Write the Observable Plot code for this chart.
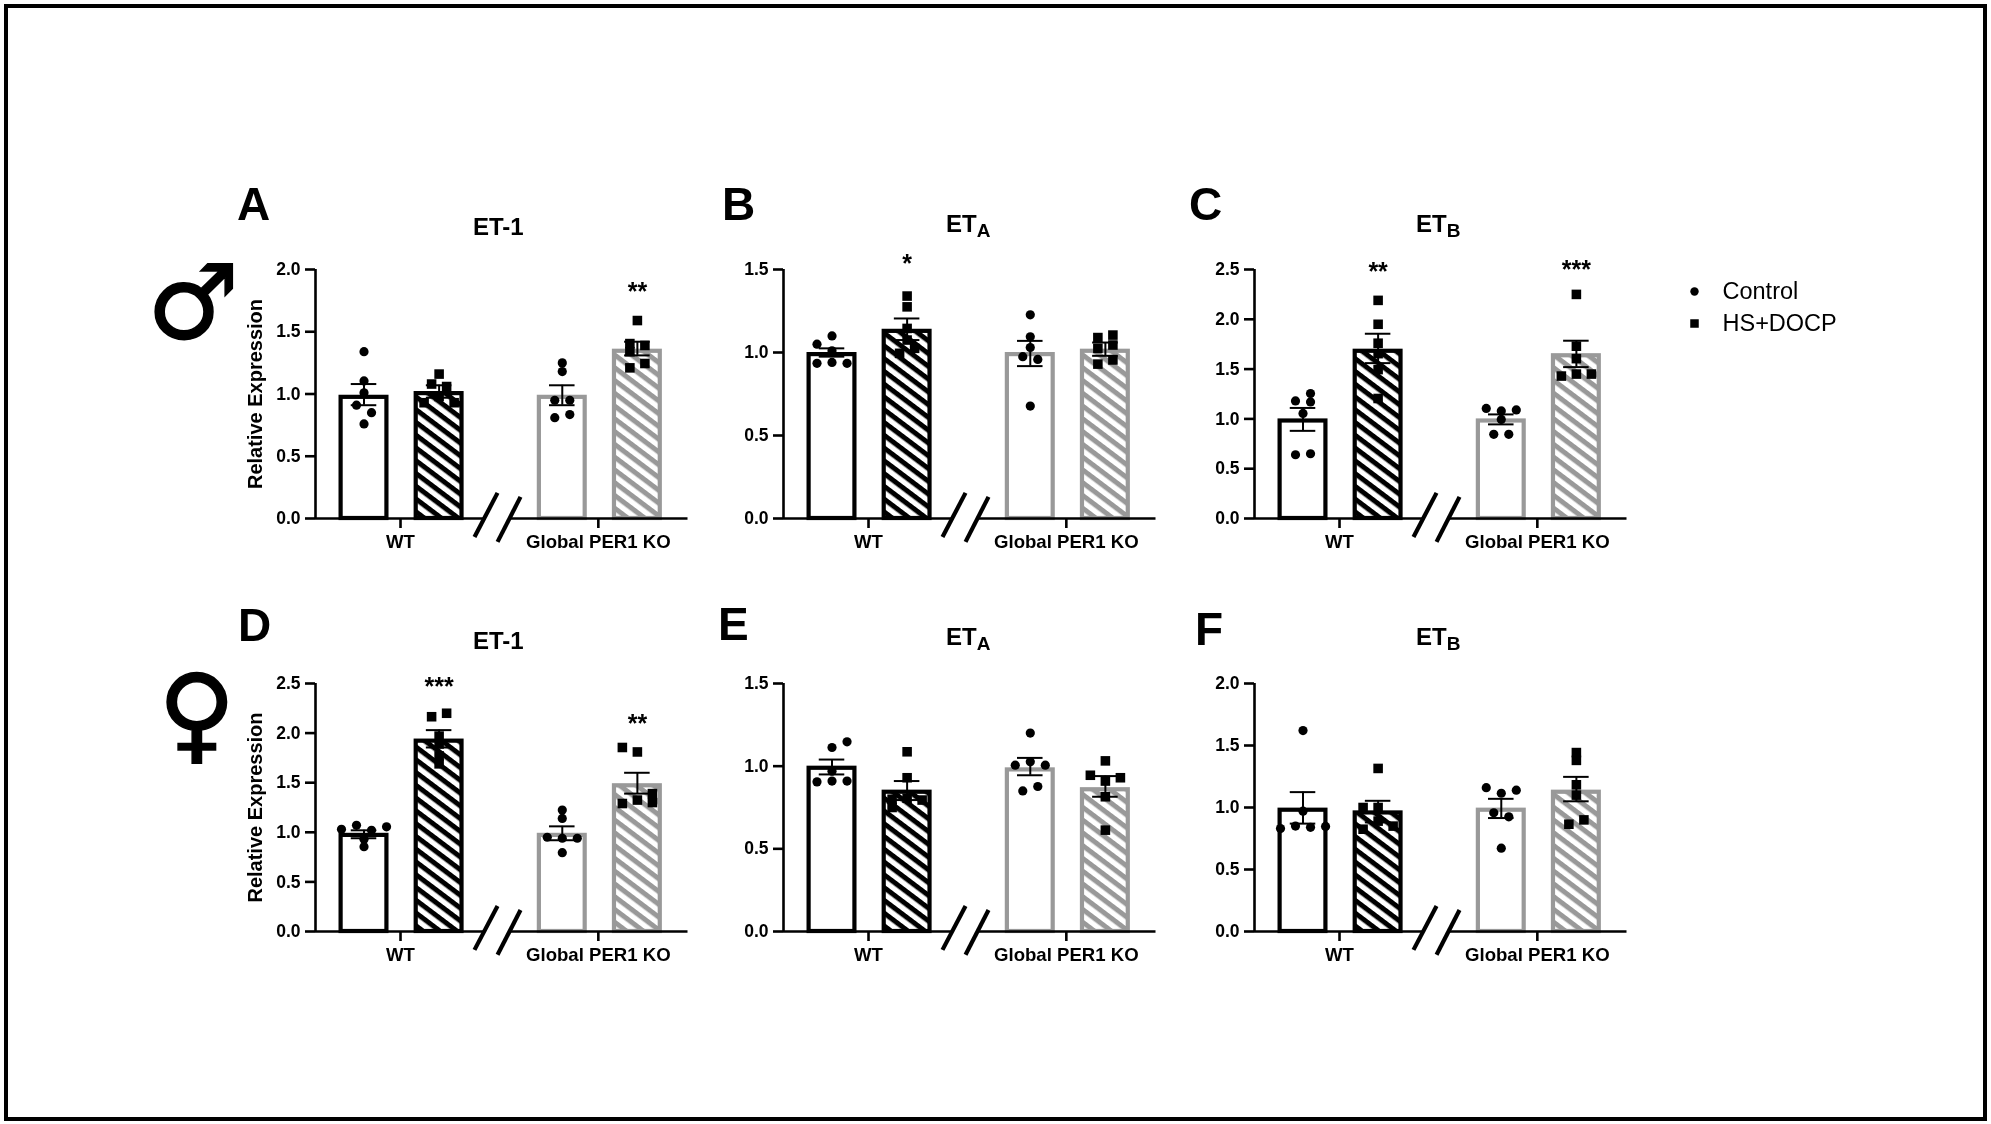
<!DOCTYPE html>
<html>
<head>
<meta charset="utf-8">
<script src="https://cdn.jsdelivr.net/npm/d3@7"></script>
<script src="https://cdn.jsdelivr.net/npm/@observablehq/plot@0.6"></script>
<style>
  html,body{margin:0;padding:0;background:#fff;}
  #page{position:relative;width:1991px;height:1124px;overflow:hidden;background:#fff;font-family:"Liberation Sans",Arial,sans-serif;color:#000;filter:blur(0.45px);}
  #frame{position:absolute;left:4px;top:4px;width:1975px;height:1109px;border:4px solid #000;}
  .lbl{position:absolute;font-weight:bold;line-height:1;white-space:nowrap;}
  .sub{position:relative;top:5px;font-size:19px;}
  .sex{position:absolute;line-height:1;font-family:"DejaVu Sans";font-weight:bold;white-space:nowrap;-webkit-text-stroke:1.5px #000;}
</style>
</head>
<body>
<div id="page"><div id="frame"></div></div>
<script>
// ---------- shared categories ----------
const groupNames = ["WT Control", "WT HS+DOCP", "KO Control", "KO HS+DOCP"];
const groupCenters = [0, 1, 2.64, 3.64];
const axisCategories = [0.486, 3.12];
const axisLabels = ["WT", "Global PER1 KO"];
const legendLabels = ["Control", "HS+DOCP"];

// ---------- A: male ET-1 ----------
const A_means = [0.99, 1.02, 0.99, 1.36];
const A_semHigh = [1.08, 1.07, 1.07, 1.42];
const A_semLow = [0.91, 0.97, 0.91, 1.31];
const A_points = [[1.34,1.105,1.01,0.91,0.85,0.76],[1.16,1.08,1.06,0.98,0.93,0.93],[1.25,1.18,0.95,0.95,0.81,0.835],[1.59,1.405,1.39,1.34,1.21,1.245]];
const A_slots = [[0,0,0,-1,1,0],[0,-1,1,0,-2,2],[0,0,-1,1,-1,1],[0,-1,1,-1,-1,1]];
const A_stars = [[3,"**",1.863]];
// ---------- B: male ETA ----------
const B_means = [1.0, 1.14, 1.0, 1.02];
const B_semHigh = [1.025, 1.205, 1.07, 1.06];
const B_semLow = [0.975, 1.075, 0.918, 0.98];
const B_points = [[1.10,1.05,1.01,0.935,0.94,0.935],[1.34,1.275,1.145,0.995,1.025,1.075],[1.227,1.095,1.03,0.975,0.958,0.677],[1.09,1.105,1.025,1.045,0.955,0.93]];
const B_slots = [[0,-2,0,-2,0,2],[0,0,0,-1,1,0],[0,0,0,-1,1,0],[-1,1,-1,1,1,-1]];
const B_stars = [[1,"*",1.566]];
// ---------- C: male ETB ----------
const C_means = [1.0, 1.70, 1.0, 1.655];
const C_semHigh = [1.11, 1.855, 1.045, 1.785];
const C_semLow = [0.88, 1.56, 0.945, 1.52];
const C_points = [[1.255,1.18,1.17,1.055,0.64,0.65],[2.19,1.95,1.76,1.655,1.495,1.205],[1.105,1.08,1.09,0.995,0.845,0.845],[2.25,1.73,1.605,1.43,1.45,1.45]];
const C_slots = [[1,-1,1,0,-1,1],[0,0,0,0,0,0],[-2,0,2,0,-1,1],[0,0,0,-2,0,2]];
const C_stars = [[1,"**",2.527],[3,"***",2.543]];
// ---------- D: female ET-1 ----------
const D_means = [0.99, 1.94, 0.99, 1.49];
const D_semHigh = [1.02, 2.03, 1.06, 1.60];
const D_semLow = [0.94, 1.855, 0.92, 1.39];
const D_points = [[1.03,1.07,1.02,1.055,0.93,0.855],[2.165,2.2,1.97,1.89,1.77,1.69],[1.225,1.14,0.95,0.94,0.94,0.795],[1.855,1.81,1.39,1.325,1.29,1.30]];
const D_slots = [[-3,-1,1,3,0,0],[-1,1,0,0,0,0],[0,0,-2,0,2,0],[-2,0,2,0,-2,2]];
const D_stars = [[1,"***",2.52],[3,"**",2.147]];
// ---------- E: female ETA ----------
const E_means = [1.0, 0.855, 0.99, 0.87];
const E_semHigh = [1.04, 0.91, 1.05, 0.94];
const E_semLow = [0.95, 0.795, 0.945, 0.815];
const E_points = [[1.147,1.113,0.97,0.905,0.91,0.91],[1.087,0.93,0.80,0.806,0.795,0.75],[1.2,1.026,1.006,1.006,0.85,0.877],[1.032,0.945,0.93,0.91,0.815,0.613]];
const E_slots = [[2,0,0,-2,0,2],[0,0,-2,0,2,-2],[0,0,-2,2,-1,1],[0,-2,2,0,0,0]];
const E_stars = [];
// ---------- F: female ETB ----------
const F_means = [0.995, 0.973, 0.995, 1.14];
const F_semHigh = [1.124, 1.054, 1.07, 1.247];
const F_semLow = [0.87, 0.88, 0.915, 1.05];
const F_points = [[1.62,0.97,0.85,0.84,0.83,0.847],[1.315,1.0,1.0,0.89,0.85,0.825],[1.16,1.115,1.14,0.957,0.925,0.672],[1.443,1.38,1.183,1.10,0.865,0.90]];
const F_slots = [[0,0,-1,1,-3,3],[0,-2,0,0,2,-2],[-2,0,2,-1,1,0],[0,0,0,0,-1,1]];
const F_stars = [];

// ---------- layout and style ----------
const FONT = '"Liberation Sans", Arial, sans-serif';
const ML = 80, MR = 20, MT = 50, MB = 50, AXIS_W = 372.5;
const X_DOMAIN = [-0.646, 4.314];
const SLOT = 0.1, BAR_HALF = 0.305, CAP_HALF = 0.17;
const BREAK_GAP = [1.59, 1.94];
const BREAK_X = [[1.471, 1.778], [1.778, 2.084]];
const BREAK_FRAC = [[-0.074, 0.103], [-0.094, 0.087]];
const page = document.getElementById("page");

function hatchDefs(id, color, period, width) {
  return () => {
    const ns = "http://www.w3.org/2000/svg";
    const defs = document.createElementNS(ns, "defs");
    const p = document.createElementNS(ns, "pattern");
    p.setAttribute("id", id);
    p.setAttribute("patternUnits", "userSpaceOnUse");
    p.setAttribute("width", period);
    p.setAttribute("height", period);
    p.setAttribute("patternTransform", "rotate(37)");
    const bg = document.createElementNS(ns, "rect");
    bg.setAttribute("width", period); bg.setAttribute("height", period); bg.setAttribute("fill", "#fff");
    const r = document.createElementNS(ns, "rect");
    r.setAttribute("width", period); r.setAttribute("height", width); r.setAttribute("fill", color);
    p.append(bg, r); defs.append(p);
    return defs;
  };
}

function panel(cfg) {
  const {id, left, top, h, yMax, means, semHigh, semLow, points, slots, stars, ylabel} = cfg;
  const groups = groupNames.map((g, i) => ({g, i, c: groupCenters[i], mean: means[i], hi: semHigh[i], lo: semLow[i]}));
  const dots = [];
  points.forEach((vals, i) => vals.forEach((v, j) => dots.push({i, v, x: groupCenters[i] + slots[i][j] * SLOT})));
  const barMark = (g) => Plot.rectY([g], {
    x1: d => d.c - BAR_HALF, x2: d => d.c + BAR_HALF, y1: 0, y2: "mean", insetTop: 2.1,
    stroke: g.i < 2 ? "#000" : "#999", strokeWidth: 4.2,
    fill: g.i % 2 === 0 ? "#fff" : (g.i === 1 ? `url(#hb-${id})` : `url(#hg-${id})`)
  });
  const ticks = d3.range(0, yMax + 0.001, 0.5);
  const breaks = BREAK_X.map((x, k) => ({x1: x[0], x2: x[1], y1: BREAK_FRAC[k][0] * yMax, y2: BREAK_FRAC[k][1] * yMax}));
  const marks = [
    hatchDefs(`hb-${id}`, "#000", 10.2, 5),
    hatchDefs(`hg-${id}`, "#999", 10.2, 5),
    ...groups.map(barMark),
    Plot.ruleY([0], {x1: X_DOMAIN[0], x2: BREAK_GAP[0], stroke: "#000", strokeWidth: 2.6}),
    Plot.ruleY([0], {x1: BREAK_GAP[1], x2: X_DOMAIN[1], stroke: "#000", strokeWidth: 2.6}),
    Plot.ruleX([X_DOMAIN[0]], {y1: 0, y2: yMax, stroke: "#000", strokeWidth: 2.6}),
    Plot.axisY({anchor: "left", ticks, tickSize: 10, tickPadding: 5, tickFormat: d3.format(".1f"), label: null,
      fontSize: 17.5, fontWeight: "bold", strokeWidth: 2.6, stroke: "#000", fill: "#000"}),
    Plot.axisX({anchor: "bottom", ticks: axisCategories, tickSize: 10, tickPadding: 6,
      tickFormat: d => axisLabels[axisCategories.indexOf(d)], label: null,
      fontSize: 18.6, fontWeight: "bold", strokeWidth: 2.6, stroke: "#000", fill: "#000"}),
    Plot.link(breaks, {x1: "x1", x2: "x2", y1: "y1", y2: "y2", stroke: "#000", strokeWidth: 4.2}),
    Plot.ruleX(groups, {x: "c", y1: "lo", y2: "hi", stroke: "#000", strokeWidth: 2}),
    Plot.ruleY(groups, {y: "hi", x1: d => d.c - CAP_HALF, x2: d => d.c + CAP_HALF, stroke: "#000", strokeWidth: 2}),
    Plot.ruleY(groups, {y: "lo", x1: d => d.c - CAP_HALF, x2: d => d.c + CAP_HALF, stroke: "#000", strokeWidth: 2}),
    Plot.dot(dots.filter(d => d.i % 2 === 0), {x: "x", y: "v", r: 4.6, fill: "#000", stroke: "none", symbol: "circle"}),
    Plot.dot(dots.filter(d => d.i % 2 === 1), {x: "x", y: "v", r: 5.4, fill: "#000", stroke: "none", symbol: "square"}),
    Plot.text(stars, {x: d => groupCenters[d[0]], y: d => d[2], text: d => d[1], fontSize: 25, fontWeight: "bold",
      lineAnchor: "middle", dy: 5, fill: "#000"})
  ];
  if (ylabel) marks.push(Plot.text([ylabel], {frameAnchor: "left", dx: -60, rotate: -90, fontSize: 20, fontWeight: "bold",
    textAnchor: "middle", lineAnchor: "middle", fill: "#000"}));
  const chart = Plot.plot({
    width: ML + AXIS_W + MR, height: MT + h + MB,
    marginLeft: ML, marginRight: MR, marginTop: MT, marginBottom: MB,
    x: {type: "linear", domain: X_DOMAIN, range: [ML, ML + AXIS_W], axis: null},
    y: {type: "linear", domain: [0, yMax], range: [MT + h, MT], axis: null},
    style: {position: "absolute", left: (left - ML) + "px", top: (top - MT) + "px", background: "transparent",
      fontFamily: FONT, overflow: "visible", maxWidth: "none", color: "#000"},
    marks
  });
  page.appendChild(chart);
}

const rowTop = [269.3, 682.7], rowH = [249, 248], colLeft = [315, 782.7, 1253.5];
panel({id: "A", left: colLeft[0], top: rowTop[0], h: rowH[0], yMax: 2.0, means: A_means, semHigh: A_semHigh, semLow: A_semLow, points: A_points, slots: A_slots, stars: A_stars, ylabel: "Relative Expression"});
panel({id: "B", left: colLeft[1], top: rowTop[0], h: rowH[0], yMax: 1.5, means: B_means, semHigh: B_semHigh, semLow: B_semLow, points: B_points, slots: B_slots, stars: B_stars});
panel({id: "C", left: colLeft[2], top: rowTop[0], h: rowH[0], yMax: 2.5, means: C_means, semHigh: C_semHigh, semLow: C_semLow, points: C_points, slots: C_slots, stars: C_stars});
panel({id: "D", left: colLeft[0], top: rowTop[1], h: rowH[1], yMax: 2.5, means: D_means, semHigh: D_semHigh, semLow: D_semLow, points: D_points, slots: D_slots, stars: D_stars, ylabel: "Relative Expression"});
panel({id: "E", left: colLeft[1], top: rowTop[1], h: rowH[1], yMax: 1.5, means: E_means, semHigh: E_semHigh, semLow: E_semLow, points: E_points, slots: E_slots, stars: E_stars});
panel({id: "F", left: colLeft[2], top: rowTop[1], h: rowH[1], yMax: 2.0, means: F_means, semHigh: F_semHigh, semLow: F_semLow, points: F_points, slots: F_slots, stars: F_stars});

// ---------- legend ----------
page.appendChild(Plot.plot({
  width: 320, height: 72, margin: 0,
  x: {domain: [0, 320], range: [0, 320], axis: null},
  y: {type: "point", domain: legendLabels, range: [20, 52.4], padding: 0, axis: null},
  style: {position: "absolute", left: "1684px", top: "270.7px", background: "transparent", fontFamily: FONT, maxWidth: "none"},
  marks: [
    Plot.dot(legendLabels.slice(0, 1), {x: () => 10, y: d => d, r: 4.2, fill: "#000", stroke: "none"}),
    Plot.dot(legendLabels.slice(1), {x: () => 10, y: d => d, r: 4.8, fill: "#000", stroke: "none", symbol: "square"}),
    Plot.text(legendLabels, {x: () => 38, y: d => d, text: d => d, fontSize: 23.5, textAnchor: "start", fill: "#000"})
  ]
}));

// ---------- panel letters, titles, sex symbols ----------
function label(html, x, baseline, size) {
  const el = document.createElement("div");
  el.className = "lbl";
  el.innerHTML = html;
  el.style.left = x + "px";
  el.style.top = (baseline - 0.8465 * size) + "px";
  el.style.fontSize = size + "px";
  page.appendChild(el);
}
const panelLetters = [["A",237,220],["B",722,220],["C",1189,220],["D",238,640.7],["E",718,640],["F",1195,645]];
panelLetters.forEach(([t, x, y]) => label(t, x, y, 46));
const sub = s => `ET<span class="sub">${s}</span>`;
const panelTitles = [["ET-1",473,235.7],[sub("A"),946,232.7],[sub("B"),1416,232.7],["ET-1",473,649],[sub("A"),946,645],[sub("B"),1416,645]];
panelTitles.forEach(([t, x, y]) => label(t, x, y, 24));
function sex(t, x, y, size) {
  const el = document.createElement("div");
  el.className = "sex";
  el.textContent = t;
  el.style.left = x + "px"; el.style.top = y + "px"; el.style.fontSize = size + "px";
  page.appendChild(el);
}
sex("\u2642", 147, 251, 103);
sex("\u2640", 158, 661, 106);
</script>
</body>
</html>
